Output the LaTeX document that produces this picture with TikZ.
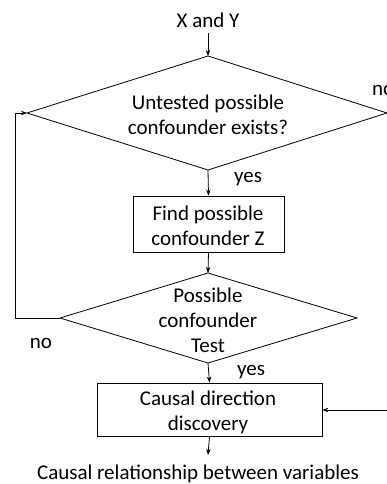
\documentclass[tikz,border=0pt]{standalone}
\usepackage{fontspec}
\setmainfont{Carlito}
\usetikzlibrary{arrows.meta}
\begin{document}
\begin{tikzpicture}[x=1pt,y=-1pt,
  lbl/.style={font=\fontsize{21}{25}\selectfont, align=center, inner sep=0pt},
  boxnode/.style={draw, line width=0.8pt},
  conn/.style={line width=0.8pt, -{Stealth[length=6pt,width=4.5pt]}},
  plain/.style={line width=0.8pt}]
\useasboundingbox (0,0) rectangle (387,484);
% diamonds
\coordinate (d1t) at (208,56);
\coordinate (d1b) at (208,170);
\coordinate (d1l) at (27,113);
\coordinate (d1r) at (387,113);
\draw[plain] (d1t) -- (d1r) -- (d1b) -- (d1l) -- cycle;
\coordinate (d2t) at (208,273);
\coordinate (d2b) at (208,363);
\coordinate (d2l) at (60,318);
\coordinate (d2r) at (357,318);
\draw[plain] (d2t) -- (d2r) -- (d2b) -- (d2l) -- cycle;
% boxes
\node[boxnode, minimum width=151pt, minimum height=56pt, inner sep=0pt] (b1) at (208.5,224) {};
\node[boxnode, minimum width=225pt, minimum height=53pt, inner sep=0pt] (b2) at (209.5,409.5) {};
% texts
\node[lbl] (in) at (208,20) {X and Y};
\node[lbl] (t1) at (208,115) {Untested possible\\confounder exists?};
\node[lbl] (t2) at (208,226) {Find possible\\confounder Z};
\node[lbl] (t3) at (208,320) {Possible\\confounder\\Test};
\node[lbl] (t4) at (208,412) {Causal direction\\discovery};
\node[lbl] (out) at (198,474) {Causal relationship between variables};
\node[lbl] (yes1) at (248,179) {yes};
\node[lbl] (yes2) at (251,372) {yes};
\node[lbl, anchor=west] (no1) at (372,90) {no};
\node[lbl] (no2) at (41,343) {no};
% connectors
\coordinate (inb) at (208,33);
\draw[conn] (inb) -- (d1t);
\draw[conn] (d1b) -- (b1.north);
\draw[conn] (b1.south) -- (d2t);
\draw[conn] (d2b) -- (b2.north);
\coordinate (loopA) at (15,318);
\coordinate (loopB) at (15,113);
\draw[conn] (d2l) -- (loopA) -- (loopB) -- (d1l);
\coordinate (rin) at (388,410);
\draw[conn] (rin) -- (b2.east |- rin);
\coordinate (outt) at (208,455);
\draw[conn] (b2.south) -- (outt);
\end{tikzpicture}
\end{document}
